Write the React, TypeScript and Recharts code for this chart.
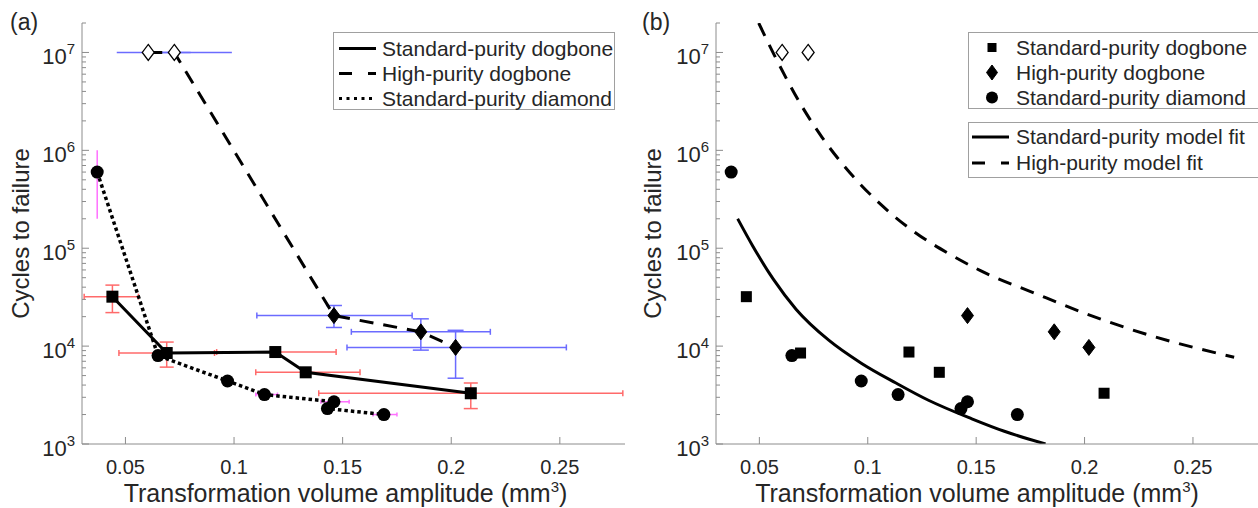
import React from "react";
import { ComposedChart, Scatter, Line, XAxis, YAxis, ErrorBar, Legend } from "recharts";

const FONT = '"Liberation Sans", Arial, Helvetica, sans-serif';
const INK = "#262626";
const AXIS = "#8c8c8c";

// axis ticks
const volumeTicks = [0.05, 0.1, 0.15, 0.2, 0.25];
const volumeTickLabels = ["0.05", "0.1", "0.15", "0.2", "0.25"];
const decadeTicks = [1e3, 1e4, 1e5, 1e6, 1e7];
const decadeExponents = ["3", "4", "5", "6", "7"];
const minorSteps = [2, 3, 4, 5, 6, 7, 8, 9];

// v = transformation volume amplitude (mm3), n = cycles to failure
// ev / en = [lower, upper] error
const spDogbone = [
  { v: 0.044, n: 32000, ev: [0.013, 0.012], en: [10000, 10000] },
  { v: 0.069, n: 8500, ev: [0.022, 0.022], en: [2400, 2500] },
  { v: 0.119, n: 8700, ev: [0.027, 0.028] },
  { v: 0.133, n: 5400, ev: [0.023, 0.025] },
  { v: 0.209, n: 3300, ev: [0.07, 0.07], en: [1000, 900] },
];

// run-outs (did not fail)
const hpRunouts = [
  { v: 0.0605, n: 1e7, ev: [0.0145, 0.0195] },
  { v: 0.0725, n: 1e7, ev: [0.014, 0.0265] },
];

const hpDogbone = [
  { v: 0.146, n: 20500, ev: [0.0355, 0.036], en: [5000, 5500] },
  { v: 0.186, n: 14000, ev: [0.032, 0.032], en: [4900, 5000] },
  { v: 0.202, n: 9700, ev: [0.05, 0.051], en: [5000, 4800] },
];

const spDiamond = [
  { v: 0.037, n: 600000, en: [400000, 400000] },
  { v: 0.065, n: 8000 },
  { v: 0.097, n: 4400 },
  { v: 0.114, n: 3200, ev: [0.004, 0.006] },
  { v: 0.146, n: 2700, ev: [0.006, 0.007] },
  { v: 0.143, n: 2300 },
  { v: 0.169, n: 2000, ev: [0.005, 0.006] },
];

// model fits
const spFit = [
  { v: 0.04, n: 200000 },
  { v: 0.047, n: 105000 },
  { v: 0.0565, n: 48000 },
  { v: 0.067, n: 23700 },
  { v: 0.082, n: 11500 },
  { v: 0.097, n: 6700 },
  { v: 0.113, n: 4200 },
  { v: 0.128, n: 2800 },
  { v: 0.148, n: 1810 },
  { v: 0.163, n: 1350 },
  { v: 0.182, n: 1000 },
];

const hpFit = [
  { v: 0.0497, n: 20000000 },
  { v: 0.057, n: 9300000 },
  { v: 0.07, n: 2730000 },
  { v: 0.079, n: 1350000 },
  { v: 0.088, n: 740000 },
  { v: 0.106, n: 280000 },
  { v: 0.122, n: 144000 },
  { v: 0.137, n: 89000 },
  { v: 0.152, n: 59000 },
  { v: 0.178, n: 34000 },
  { v: 0.201, n: 21300 },
  { v: 0.23, n: 12900 },
  { v: 0.269, n: 7700 },
];

const seriesNames = ["Standard-purity dogbone", "High-purity dogbone", "Standard-purity diamond"];
const fitNames = ["Standard-purity model fit", "High-purity model fit"];

const yTicks = decadeTicks.flatMap((d) => [d, ...minorSteps.map((m) => m * d)]).filter((t) => t <= 2e7);

const RED = "#ff6a6a";
const BLUE = "#6b6bff";
const MAGENTA = "#ff70ff";
const DASH = "14 10";
const DOTS = "3.5 3";

const Square = ({ cx, cy, s = 12 }: any) => (
  <rect x={cx - s / 2} y={cy - s / 2} width={s} height={s} fill="#000" />
);
const Diamond = ({ cx, cy, open = false, w = 6, h = 8 }: any) => (
  <path
    d={`M${cx},${cy - h} L${cx + w},${cy} L${cx},${cy + h} L${cx - w},${cy} Z`}
    fill={open ? "#fff" : "#000"}
    stroke="#000"
    strokeWidth={open ? 1.3 : 1}
  />
);
const Dot = ({ cx, cy, r = 6.5 }: any) => <circle cx={cx} cy={cy} r={r} fill="#000" />;
const Blank = () => <g />;

const XTick = (p: any) => {
  const { x, y, payload } = p;
  const i = volumeTicks.indexOf(payload.value);
  return (
    <g>
      <line x1={x} x2={x} y1={y} y2={y - 7} stroke={AXIS} />
      <text x={x} y={y + 30} textAnchor="middle" fontSize={20} fill={INK} fontFamily={FONT}>
        {volumeTickLabels[i]}
      </text>
    </g>
  );
};

const YTick = (p: any) => {
  const { x, y, payload } = p;
  const k = decadeTicks.indexOf(payload.value);
  if (k < 0) return <line x1={x} x2={x + 4} y1={y} y2={y} stroke={AXIS} />;
  return (
    <g>
      <line x1={x} x2={x + 7} y1={y} y2={y} stroke={AXIS} />
      <text x={x - 7} y={y + 12} textAnchor="end" fill={INK} fontFamily={FONT}>
        <tspan fontSize={22}>10</tspan>
        <tspan fontSize={15} dy={-10}>{decadeExponents[k]}</tspan>
      </text>
    </g>
  );
};

const xTitle = (shift: number) => (p: any) => {
  const { viewBox } = p;
  const cx = viewBox.x + viewBox.width / 2 + shift;
  return (
    <text x={cx} y={502} textAnchor="middle" fontSize={25} fill={INK} fontFamily={FONT}>
      Transformation volume amplitude (mm
      <tspan fontSize={15} dy={-10}>3</tspan>
      <tspan dy={10}>)</tspan>
    </text>
  );
};

const yTitle = (cx: number) => (p: any) => {
  const { viewBox } = p;
  const cy = viewBox.y + viewBox.height / 2;
  return (
    <text x={cx} y={cy} transform={`rotate(-90 ${cx} ${cy})`} textAnchor="middle" fontSize={24} fill={INK} fontFamily={FONT}>
      Cycles to failure
    </text>
  );
};

const boxStyle: React.CSSProperties = {
  border: "1px solid #a0a0a0",
  background: "#fff",
  boxSizing: "border-box",
  fontFamily: FONT,
  fontSize: 21,
  color: INK,
  whiteSpace: "nowrap",
};

const rowStyle: React.CSSProperties = { display: "flex", alignItems: "center", height: 25 };

const lineDash = [undefined, "13 16", "3 4.5"];

const LegendA = () => (
  <div style={{ ...boxStyle, width: 282, height: 78, paddingTop: 3 }}>
    {seriesNames.map((name, i) => (
      <div key={name} style={rowStyle}>
        <svg width={48} height={25}>
          <line x1={5} x2={42} y1={12.5} y2={12.5} stroke="#000" strokeWidth={3} strokeDasharray={lineDash[i]} />
        </svg>
        <span>{name}</span>
      </div>
    ))}
  </div>
);

const legendMarkers = [
  <Square cx={23} cy={12.5} s={9} />,
  <Diamond cx={23} cy={12.5} w={5.5} h={7.5} />,
  <Dot cx={23} cy={12.5} r={6} />,
];

const LegendB = () => (
  <div>
    <div style={{ ...boxStyle, width: 292, height: 77, paddingTop: 2 }}>
      {seriesNames.map((name, i) => (
        <div key={name} style={rowStyle}>
          <svg width={47} height={25}>{legendMarkers[i]}</svg>
          <span>{name}</span>
        </div>
      ))}
    </div>
    <div style={{ ...boxStyle, width: 292, height: 56, marginTop: 13, paddingTop: 1 }}>
      {fitNames.map((name, i) => (
        <div key={name} style={{ ...rowStyle, height: 26 }}>
          <svg width={47} height={26}>
            <line x1={3} x2={40} y1={13} y2={13} stroke="#000" strokeWidth={3} strokeDasharray={i === 1 ? "13 16" : undefined} />
          </svg>
          <span>{name}</span>
        </div>
      ))}
    </div>
  </div>
);

const axes = (yWidth: number, yTitleX: number, xShift: number) => [
  <XAxis
    key="x"
    type="number"
    dataKey="v"
    domain={[0.03, 0.28]}
    ticks={volumeTicks}
    allowDataOverflow
    interval={0}
    height={64}
    tickSize={0}
    tickMargin={0}
    tickLine={false}
    axisLine={{ stroke: AXIS }}
    tick={XTick}
    label={{ content: xTitle(xShift) }}
  />,
  <YAxis
    key="y"
    type="number"
    dataKey="n"
    scale="log"
    domain={[1000, 2e7]}
    ticks={yTicks}
    allowDataOverflow
    interval={0}
    width={yWidth}
    tickSize={0}
    tickMargin={0}
    tickLine={false}
    axisLine={{ stroke: AXIS }}
    tick={YTick}
    label={{ content: yTitle(yTitleX) }}
  />,
];

function PanelA() {
  return (
    <ComposedChart width={629} height={508} margin={{ top: 23, right: 4, bottom: 0, left: 0 }}>
      {axes(82, 29, -8)}
      <Legend layout="vertical" align="center" verticalAlign="middle" wrapperStyle={{ left: 333, top: 32, width: 282 }} content={LegendA} />

      {/* error bars underneath */}
      <Scatter data={spDogbone} shape={Blank} isAnimationActive={false} legendType="none">
        <ErrorBar dataKey="ev" direction="x" stroke={RED} width={3} isAnimationActive={false} />
        <ErrorBar dataKey="en" direction="y" stroke={RED} width={7} isAnimationActive={false} />
      </Scatter>
      <Scatter data={hpRunouts} shape={Blank} isAnimationActive={false} legendType="none">
        <ErrorBar dataKey="ev" direction="x" stroke={BLUE} width={0} isAnimationActive={false} />
      </Scatter>
      <Scatter data={hpDogbone} shape={Blank} isAnimationActive={false} legendType="none">
        <ErrorBar dataKey="ev" direction="x" stroke={BLUE} width={3} isAnimationActive={false} />
        <ErrorBar dataKey="en" direction="y" stroke={BLUE} width={8} isAnimationActive={false} />
      </Scatter>
      <Scatter data={spDiamond} shape={Blank} isAnimationActive={false} legendType="none">
        <ErrorBar dataKey="ev" direction="x" stroke={MAGENTA} width={2} isAnimationActive={false} />
        <ErrorBar dataKey="en" direction="y" stroke={MAGENTA} width={0} isAnimationActive={false} />
      </Scatter>

      {/* connected series */}
      <Scatter
        data={spDogbone}
        line={{ stroke: "#000", strokeWidth: 3 }}
        shape={(p: any) => <Square cx={p.cx} cy={p.cy} />}
        isAnimationActive={false}
      />
      <Scatter
        data={[...hpRunouts, ...hpDogbone]}
        line={{ stroke: "#000", strokeWidth: 3, strokeDasharray: DASH }}
        shape={Blank}
        isAnimationActive={false}
      />
      <Scatter data={hpRunouts} shape={(p: any) => <Diamond cx={p.cx} cy={p.cy} open />} isAnimationActive={false} />
      <Scatter data={hpDogbone} shape={(p: any) => <Diamond cx={p.cx} cy={p.cy} />} isAnimationActive={false} />
      <Scatter
        data={spDiamond}
        line={{ stroke: "#000", strokeWidth: 3.5, strokeDasharray: DOTS }}
        shape={(p: any) => <Dot cx={p.cx} cy={p.cy} />}
        isAnimationActive={false}
      />
    </ComposedChart>
  );
}

function PanelB() {
  return (
    <ComposedChart width={629} height={508} margin={{ top: 23, right: 0, bottom: 0, left: 0 }}>
      {axes(87, 32, -10)}
      <Legend layout="vertical" align="center" verticalAlign="middle" wrapperStyle={{ left: 339, top: 32, width: 292 }} content={LegendB} />
      <Line data={spFit} dataKey="n" type="monotone" stroke="#000" strokeWidth={3} dot={false} isAnimationActive={false} />
      <Line data={hpFit} dataKey="n" type="monotone" stroke="#000" strokeWidth={3} strokeDasharray={DASH} dot={false} isAnimationActive={false} />
      <Scatter data={spDogbone} shape={(p: any) => <Square cx={p.cx} cy={p.cy} s={11} />} isAnimationActive={false} />
      <Scatter data={hpRunouts} shape={(p: any) => <Diamond cx={p.cx} cy={p.cy} open />} isAnimationActive={false} />
      <Scatter data={hpDogbone} shape={(p: any) => <Diamond cx={p.cx} cy={p.cy} />} isAnimationActive={false} />
      <Scatter data={spDiamond} shape={(p: any) => <Dot cx={p.cx} cy={p.cy} />} isAnimationActive={false} />
    </ComposedChart>
  );
}

const panelLabel: React.CSSProperties = {
  position: "absolute",
  top: 11,
  fontSize: 23,
  lineHeight: "23px",
  fontFamily: FONT,
  color: INK,
};

export default function App() {
  return (
    <div style={{ position: "absolute", left: 0, top: 0, width: 1258, height: 508, overflow: "hidden", background: "#fff" }}>
      <div style={{ position: "absolute", left: 0, top: 0 }}>
        <PanelA />
      </div>
      <div style={{ position: "absolute", left: 629, top: 0 }}>
        <PanelB />
      </div>
      <div style={{ ...panelLabel, left: 10 }}>(a)</div>
      <div style={{ ...panelLabel, left: 642 }}>(b)</div>
    </div>
  );
}
